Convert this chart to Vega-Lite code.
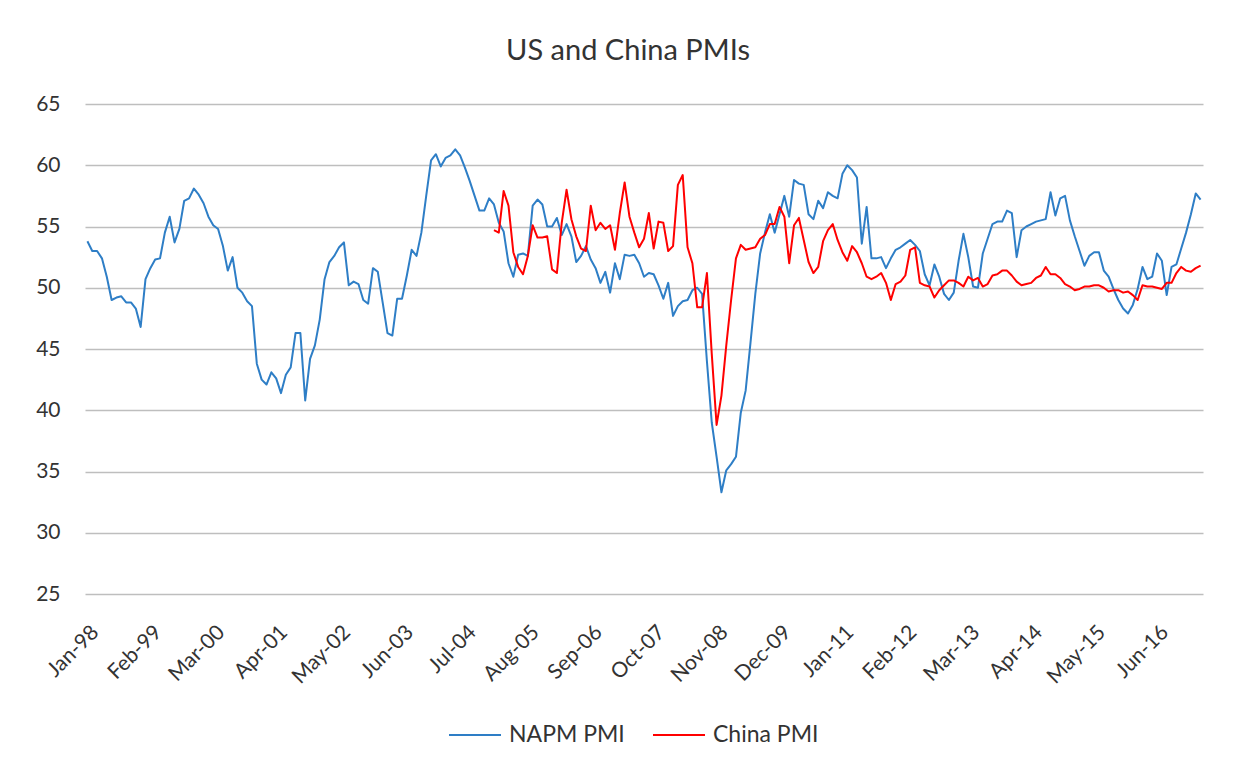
{
  "$schema": "https://vega.github.io/schema/vega-lite/v6.json",
  "width": 1118,
  "height": 490,
  "autosize": {"type": "none"},
  "padding": {"left": 85, "top": 104, "right": 37, "bottom": 175},
  "background": "white",
  "title": {"text": "US and China PMIs", "font": "Lato", "fontSize": 29, "fontWeight": "normal", "color": "#333333", "anchor": "middle", "frame": "group", "dx": -16, "offset": 27},
  "data": {"values": [
    {"m":"Jan-98","NAPM PMI":53.8},{"m":"Feb-98","NAPM PMI":53.0},{"m":"Mar-98","NAPM PMI":53.0},{"m":"Apr-98","NAPM PMI":52.4},{"m":"May-98","NAPM PMI":50.9},{"m":"Jun-98","NAPM PMI":49.0},{"m":"Jul-98","NAPM PMI":49.2},{"m":"Aug-98","NAPM PMI":49.3},{"m":"Sep-98","NAPM PMI":48.8},{"m":"Oct-98","NAPM PMI":48.8},{"m":"Nov-98","NAPM PMI":48.3},{"m":"Dec-98","NAPM PMI":46.8},
    {"m":"Jan-99","NAPM PMI":50.7},{"m":"Feb-99","NAPM PMI":51.6},{"m":"Mar-99","NAPM PMI":52.3},{"m":"Apr-99","NAPM PMI":52.4},{"m":"May-99","NAPM PMI":54.5},{"m":"Jun-99","NAPM PMI":55.8},{"m":"Jul-99","NAPM PMI":53.7},{"m":"Aug-99","NAPM PMI":54.8},{"m":"Sep-99","NAPM PMI":57.1},{"m":"Oct-99","NAPM PMI":57.3},{"m":"Nov-99","NAPM PMI":58.1},{"m":"Dec-99","NAPM PMI":57.6},
    {"m":"Jan-00","NAPM PMI":56.9},{"m":"Feb-00","NAPM PMI":55.8},{"m":"Mar-00","NAPM PMI":55.1},{"m":"Apr-00","NAPM PMI":54.8},{"m":"May-00","NAPM PMI":53.4},{"m":"Jun-00","NAPM PMI":51.4},{"m":"Jul-00","NAPM PMI":52.5},{"m":"Aug-00","NAPM PMI":50.0},{"m":"Sep-00","NAPM PMI":49.6},{"m":"Oct-00","NAPM PMI":48.9},{"m":"Nov-00","NAPM PMI":48.5},{"m":"Dec-00","NAPM PMI":43.8},
    {"m":"Jan-01","NAPM PMI":42.5},{"m":"Feb-01","NAPM PMI":42.1},{"m":"Mar-01","NAPM PMI":43.1},{"m":"Apr-01","NAPM PMI":42.6},{"m":"May-01","NAPM PMI":41.4},{"m":"Jun-01","NAPM PMI":42.9},{"m":"Jul-01","NAPM PMI":43.5},{"m":"Aug-01","NAPM PMI":46.3},{"m":"Sep-01","NAPM PMI":46.3},{"m":"Oct-01","NAPM PMI":40.8},{"m":"Nov-01","NAPM PMI":44.2},{"m":"Dec-01","NAPM PMI":45.3},
    {"m":"Jan-02","NAPM PMI":47.4},{"m":"Feb-02","NAPM PMI":50.7},{"m":"Mar-02","NAPM PMI":52.1},{"m":"Apr-02","NAPM PMI":52.6},{"m":"May-02","NAPM PMI":53.3},{"m":"Jun-02","NAPM PMI":53.7},{"m":"Jul-02","NAPM PMI":50.2},{"m":"Aug-02","NAPM PMI":50.5},{"m":"Sep-02","NAPM PMI":50.3},{"m":"Oct-02","NAPM PMI":49.0},{"m":"Nov-02","NAPM PMI":48.7},{"m":"Dec-02","NAPM PMI":51.6},
    {"m":"Jan-03","NAPM PMI":51.3},{"m":"Feb-03","NAPM PMI":48.8},{"m":"Mar-03","NAPM PMI":46.3},{"m":"Apr-03","NAPM PMI":46.1},{"m":"May-03","NAPM PMI":49.1},{"m":"Jun-03","NAPM PMI":49.1},{"m":"Jul-03","NAPM PMI":51.0},{"m":"Aug-03","NAPM PMI":53.1},{"m":"Sep-03","NAPM PMI":52.6},{"m":"Oct-03","NAPM PMI":54.5},{"m":"Nov-03","NAPM PMI":57.5},{"m":"Dec-03","NAPM PMI":60.4},
    {"m":"Jan-04","NAPM PMI":60.9},{"m":"Feb-04","NAPM PMI":59.9},{"m":"Mar-04","NAPM PMI":60.6},{"m":"Apr-04","NAPM PMI":60.8},{"m":"May-04","NAPM PMI":61.3},{"m":"Jun-04","NAPM PMI":60.8},{"m":"Jul-04","NAPM PMI":59.8},{"m":"Aug-04","NAPM PMI":58.7},{"m":"Sep-04","NAPM PMI":57.5},{"m":"Oct-04","NAPM PMI":56.3},{"m":"Nov-04","NAPM PMI":56.3},{"m":"Dec-04","NAPM PMI":57.3},
    {"m":"Jan-05","NAPM PMI":56.8,"China PMI":54.7},{"m":"Feb-05","NAPM PMI":55.3,"China PMI":54.5},{"m":"Mar-05","NAPM PMI":54.6,"China PMI":57.9},{"m":"Apr-05","NAPM PMI":52.0,"China PMI":56.7},{"m":"May-05","NAPM PMI":50.9,"China PMI":52.9},{"m":"Jun-05","NAPM PMI":52.7,"China PMI":51.7},{"m":"Jul-05","NAPM PMI":52.8,"China PMI":51.1},{"m":"Aug-05","NAPM PMI":52.6,"China PMI":52.6},{"m":"Sep-05","NAPM PMI":56.7,"China PMI":55.1},{"m":"Oct-05","NAPM PMI":57.2,"China PMI":54.1},{"m":"Nov-05","NAPM PMI":56.8,"China PMI":54.1},{"m":"Dec-05","NAPM PMI":55.0,"China PMI":54.2},
    {"m":"Jan-06","NAPM PMI":55.0,"China PMI":51.5},{"m":"Feb-06","NAPM PMI":55.7,"China PMI":51.2},{"m":"Mar-06","NAPM PMI":54.3,"China PMI":55.3},{"m":"Apr-06","NAPM PMI":55.2,"China PMI":58.0},{"m":"May-06","NAPM PMI":54.2,"China PMI":55.6},{"m":"Jun-06","NAPM PMI":52.1,"China PMI":54.2},{"m":"Jul-06","NAPM PMI":52.6,"China PMI":53.2},{"m":"Aug-06","NAPM PMI":53.4,"China PMI":53.0},{"m":"Sep-06","NAPM PMI":52.3,"China PMI":56.7},{"m":"Oct-06","NAPM PMI":51.6,"China PMI":54.7},{"m":"Nov-06","NAPM PMI":50.4,"China PMI":55.3},{"m":"Dec-06","NAPM PMI":51.3,"China PMI":54.8},
    {"m":"Jan-07","NAPM PMI":49.6,"China PMI":55.1},{"m":"Feb-07","NAPM PMI":52.0,"China PMI":53.1},{"m":"Mar-07","NAPM PMI":50.7,"China PMI":56.1},{"m":"Apr-07","NAPM PMI":52.7,"China PMI":58.6},{"m":"May-07","NAPM PMI":52.6,"China PMI":55.8},{"m":"Jun-07","NAPM PMI":52.7,"China PMI":54.5},{"m":"Jul-07","NAPM PMI":52.0,"China PMI":53.3},{"m":"Aug-07","NAPM PMI":50.9,"China PMI":54.0},{"m":"Sep-07","NAPM PMI":51.2,"China PMI":56.1},{"m":"Oct-07","NAPM PMI":51.1,"China PMI":53.2},{"m":"Nov-07","NAPM PMI":50.2,"China PMI":55.4},{"m":"Dec-07","NAPM PMI":49.1,"China PMI":55.3},
    {"m":"Jan-08","NAPM PMI":50.4,"China PMI":53.0},{"m":"Feb-08","NAPM PMI":47.7,"China PMI":53.4},{"m":"Mar-08","NAPM PMI":48.5,"China PMI":58.4},{"m":"Apr-08","NAPM PMI":48.9,"China PMI":59.2},{"m":"May-08","NAPM PMI":49.0,"China PMI":53.3},{"m":"Jun-08","NAPM PMI":49.8,"China PMI":52.0},{"m":"Jul-08","NAPM PMI":50.0,"China PMI":48.4},{"m":"Aug-08","NAPM PMI":49.5,"China PMI":48.4},{"m":"Sep-08","NAPM PMI":44.0,"China PMI":51.2},{"m":"Oct-08","NAPM PMI":39.0,"China PMI":44.6},{"m":"Nov-08","NAPM PMI":36.2,"China PMI":38.8},{"m":"Dec-08","NAPM PMI":33.3,"China PMI":41.2},
    {"m":"Jan-09","NAPM PMI":35.1,"China PMI":45.3},{"m":"Feb-09","NAPM PMI":35.6,"China PMI":49.0},{"m":"Mar-09","NAPM PMI":36.2,"China PMI":52.4},{"m":"Apr-09","NAPM PMI":39.8,"China PMI":53.5},{"m":"May-09","NAPM PMI":41.6,"China PMI":53.1},{"m":"Jun-09","NAPM PMI":45.5,"China PMI":53.2},{"m":"Jul-09","NAPM PMI":49.5,"China PMI":53.3},{"m":"Aug-09","NAPM PMI":52.8,"China PMI":54.0},{"m":"Sep-09","NAPM PMI":54.5,"China PMI":54.3},{"m":"Oct-09","NAPM PMI":56.0,"China PMI":55.2},{"m":"Nov-09","NAPM PMI":54.5,"China PMI":55.2},{"m":"Dec-09","NAPM PMI":56.0,"China PMI":56.6},
    {"m":"Jan-10","NAPM PMI":57.5,"China PMI":55.8},{"m":"Feb-10","NAPM PMI":55.8,"China PMI":52.0},{"m":"Mar-10","NAPM PMI":58.8,"China PMI":55.1},{"m":"Apr-10","NAPM PMI":58.5,"China PMI":55.7},{"m":"May-10","NAPM PMI":58.4,"China PMI":53.9},{"m":"Jun-10","NAPM PMI":56.0,"China PMI":52.1},{"m":"Jul-10","NAPM PMI":55.6,"China PMI":51.2},{"m":"Aug-10","NAPM PMI":57.1,"China PMI":51.7},{"m":"Sep-10","NAPM PMI":56.5,"China PMI":53.8},{"m":"Oct-10","NAPM PMI":57.8,"China PMI":54.7},{"m":"Nov-10","NAPM PMI":57.5,"China PMI":55.2},{"m":"Dec-10","NAPM PMI":57.3,"China PMI":53.9},
    {"m":"Jan-11","NAPM PMI":59.3,"China PMI":52.9},{"m":"Feb-11","NAPM PMI":60.0,"China PMI":52.2},{"m":"Mar-11","NAPM PMI":59.6,"China PMI":53.4},{"m":"Apr-11","NAPM PMI":59.0,"China PMI":52.9},{"m":"May-11","NAPM PMI":53.6,"China PMI":52.0},{"m":"Jun-11","NAPM PMI":56.6,"China PMI":50.9},{"m":"Jul-11","NAPM PMI":52.4,"China PMI":50.7},{"m":"Aug-11","NAPM PMI":52.4,"China PMI":50.9},{"m":"Sep-11","NAPM PMI":52.5,"China PMI":51.2},{"m":"Oct-11","NAPM PMI":51.6,"China PMI":50.4},{"m":"Nov-11","NAPM PMI":52.4,"China PMI":49.0},{"m":"Dec-11","NAPM PMI":53.1,"China PMI":50.3},
    {"m":"Jan-12","NAPM PMI":53.3,"China PMI":50.5},{"m":"Feb-12","NAPM PMI":53.6,"China PMI":51.0},{"m":"Mar-12","NAPM PMI":53.9,"China PMI":53.1},{"m":"Apr-12","NAPM PMI":53.5,"China PMI":53.3},{"m":"May-12","NAPM PMI":53.0,"China PMI":50.4},{"m":"Jun-12","NAPM PMI":51.1,"China PMI":50.2},{"m":"Jul-12","NAPM PMI":50.2,"China PMI":50.1},{"m":"Aug-12","NAPM PMI":51.9,"China PMI":49.2},{"m":"Sep-12","NAPM PMI":50.9,"China PMI":49.8},{"m":"Oct-12","NAPM PMI":49.5,"China PMI":50.2},{"m":"Nov-12","NAPM PMI":49.0,"China PMI":50.6},{"m":"Dec-12","NAPM PMI":49.6,"China PMI":50.6},
    {"m":"Jan-13","NAPM PMI":52.2,"China PMI":50.4},{"m":"Feb-13","NAPM PMI":54.4,"China PMI":50.1},{"m":"Mar-13","NAPM PMI":52.5,"China PMI":50.9},{"m":"Apr-13","NAPM PMI":50.1,"China PMI":50.6},{"m":"May-13","NAPM PMI":50.0,"China PMI":50.8},{"m":"Jun-13","NAPM PMI":52.8,"China PMI":50.1},{"m":"Jul-13","NAPM PMI":54.0,"China PMI":50.3},{"m":"Aug-13","NAPM PMI":55.2,"China PMI":51.0},{"m":"Sep-13","NAPM PMI":55.4,"China PMI":51.1},{"m":"Oct-13","NAPM PMI":55.4,"China PMI":51.4},{"m":"Nov-13","NAPM PMI":56.3,"China PMI":51.4},{"m":"Dec-13","NAPM PMI":56.1,"China PMI":51.0},
    {"m":"Jan-14","NAPM PMI":52.5,"China PMI":50.5},{"m":"Feb-14","NAPM PMI":54.7,"China PMI":50.2},{"m":"Mar-14","NAPM PMI":55.0,"China PMI":50.3},{"m":"Apr-14","NAPM PMI":55.2,"China PMI":50.4},{"m":"May-14","NAPM PMI":55.4,"China PMI":50.8},{"m":"Jun-14","NAPM PMI":55.5,"China PMI":51.0},{"m":"Jul-14","NAPM PMI":55.6,"China PMI":51.7},{"m":"Aug-14","NAPM PMI":57.8,"China PMI":51.1},{"m":"Sep-14","NAPM PMI":55.9,"China PMI":51.1},{"m":"Oct-14","NAPM PMI":57.3,"China PMI":50.8},{"m":"Nov-14","NAPM PMI":57.5,"China PMI":50.3},{"m":"Dec-14","NAPM PMI":55.5,"China PMI":50.1},
    {"m":"Jan-15","NAPM PMI":54.2,"China PMI":49.8},{"m":"Feb-15","NAPM PMI":53.0,"China PMI":49.9},{"m":"Mar-15","NAPM PMI":51.8,"China PMI":50.1},{"m":"Apr-15","NAPM PMI":52.6,"China PMI":50.1},{"m":"May-15","NAPM PMI":52.9,"China PMI":50.2},{"m":"Jun-15","NAPM PMI":52.9,"China PMI":50.2},{"m":"Jul-15","NAPM PMI":51.4,"China PMI":50.0},{"m":"Aug-15","NAPM PMI":50.9,"China PMI":49.7},{"m":"Sep-15","NAPM PMI":49.9,"China PMI":49.8},{"m":"Oct-15","NAPM PMI":49.0,"China PMI":49.8},{"m":"Nov-15","NAPM PMI":48.3,"China PMI":49.6},{"m":"Dec-15","NAPM PMI":47.9,"China PMI":49.7},
    {"m":"Jan-16","NAPM PMI":48.6,"China PMI":49.4},{"m":"Feb-16","NAPM PMI":49.9,"China PMI":49.0},{"m":"Mar-16","NAPM PMI":51.7,"China PMI":50.2},{"m":"Apr-16","NAPM PMI":50.7,"China PMI":50.1},{"m":"May-16","NAPM PMI":50.9,"China PMI":50.1},{"m":"Jun-16","NAPM PMI":52.8,"China PMI":50.0},{"m":"Jul-16","NAPM PMI":52.2,"China PMI":49.9},{"m":"Aug-16","NAPM PMI":49.4,"China PMI":50.4},{"m":"Sep-16","NAPM PMI":51.7,"China PMI":50.4},{"m":"Oct-16","NAPM PMI":51.9,"China PMI":51.2},{"m":"Nov-16","NAPM PMI":53.2,"China PMI":51.7},{"m":"Dec-16","NAPM PMI":54.5,"China PMI":51.4},
    {"m":"Jan-17","NAPM PMI":56.0,"China PMI":51.3},{"m":"Feb-17","NAPM PMI":57.7,"China PMI":51.6},{"m":"Mar-17","NAPM PMI":57.2,"China PMI":51.8}
  ]},
  "transform": [{"fold": ["NAPM PMI", "China PMI"], "as": ["series", "pmi"]}],
  "mark": {"type": "line", "strokeWidth": 2, "strokeJoin": "round"},
  "encoding": {
    "x": {
      "field": "m", "type": "ordinal", "sort": null,
      "scale": {"type": "point", "padding": 0.5},
      "axis": {
        "title": null,
        "values": ["Jan-98","Feb-99","Mar-00","Apr-01","May-02","Jun-03","Jul-04","Aug-05","Sep-06","Oct-07","Nov-08","Dec-09","Jan-11","Feb-12","Mar-13","Apr-14","May-15","Jun-16"],
        "labelAngle": -45, "labelAlign": "right", "labelBaseline": "top", "labelPadding": 27,
        "labelFont": "Lato", "labelFontSize": 21, "labelColor": "#333333",
        "ticks": false, "domain": false, "grid": false, "labelOverlap": false
      }
    },
    "y": {
      "field": "pmi", "type": "quantitative",
      "scale": {"domain": [25, 65], "nice": false, "zero": false},
      "axis": {
        "title": null, "values": [25, 30, 35, 40, 45, 50, 55, 60, 65],
        "labelFont": "Lato", "labelFontSize": 21, "labelColor": "#333333", "labelPadding": 25,
        "ticks": false, "domain": false, "grid": true, "gridColor": "#BEBEBE", "gridWidth": 1.5
      }
    },
    "color": {
      "field": "series", "type": "nominal", "sort": ["NAPM PMI", "China PMI"],
      "scale": {"domain": ["NAPM PMI", "China PMI"], "range": ["#2E7EC6", "#FF0000"]},
      "legend": {
        "title": null, "orient": "none", "legendX": 363, "legendY": 604, "direction": "horizontal",
        "symbolType": "stroke", "symbolSize": 2704, "symbolStrokeWidth": 2,
        "labelFont": "Lato", "labelFontSize": 23, "labelColor": "#333333", "labelOffset": 7, "columnPadding": 24
      }
    }
  },
  "config": {"view": {"stroke": null}}
}
